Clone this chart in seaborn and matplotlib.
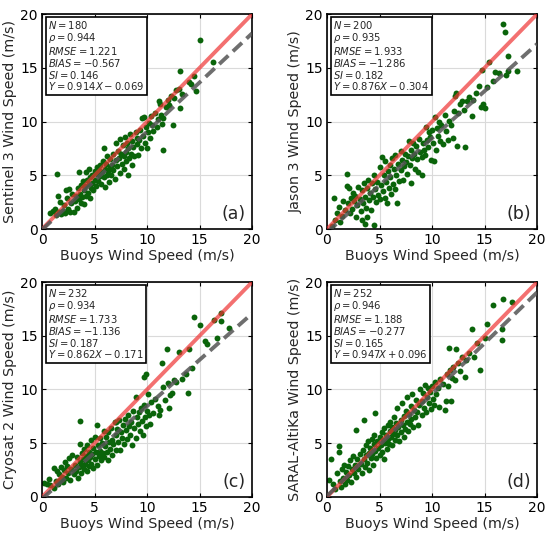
import matplotlib
matplotlib.use("Agg")
import matplotlib.pyplot as plt
import pandas as pd
import seaborn as sns

# ── Data ─────────────────────────────────────────────────────────────────────
points_a = [
    (0.8, 1.5), (1.0, 1.7), (1.2, 1.9), (1.3, 1.3), (1.4, 5.1), (1.5, 3.1), (1.6, 1.6), (1.7, 2.5),
    (1.8, 1.4), (2.0, 1.7), (2.1, 2.2), (2.2, 1.5), (2.3, 3.6), (2.4, 2.9), (2.5, 1.9), (2.6, 3.7),
    (2.7, 1.6), (2.8, 2.4), (2.9, 3.3), (3.0, 1.6), (3.1, 2.6), (3.2, 3.1), (3.3, 2.0), (3.4, 3.8),
    (3.5, 2.8), (3.5, 5.3), (3.6, 3.3), (3.7, 2.4), (3.7, 4.1), (3.8, 3.0), (3.9, 4.5), (4.0, 2.3),
    (4.0, 3.6), (4.1, 4.0), (4.2, 3.1), (4.2, 5.3), (4.3, 4.6), (4.4, 3.4), (4.5, 4.2), (4.5, 5.6),
    (4.6, 2.9), (4.6, 4.8), (4.7, 3.8), (4.8, 5.0), (4.8, 4.3), (4.9, 3.6), (5.0, 5.4), (5.0, 4.6),
    (5.1, 4.0), (5.2, 5.1), (5.2, 5.8), (5.3, 4.5), (5.4, 5.5), (5.5, 4.9), (5.5, 6.0), (5.6, 4.2),
    (5.7, 5.3), (5.8, 6.3), (5.9, 4.8), (5.9, 7.5), (6.0, 5.6), (6.0, 3.9), (6.1, 6.1), (6.2, 5.0),
    (6.2, 6.8), (6.3, 5.4), (6.4, 4.4), (6.5, 6.5), (6.5, 5.8), (6.6, 5.0), (6.7, 6.0), (6.8, 7.0),
    (6.8, 5.5), (6.9, 4.7), (7.0, 6.4), (7.0, 8.0), (7.1, 5.9), (7.2, 7.3), (7.3, 6.6), (7.4, 8.4),
    (7.4, 5.2), (7.5, 7.0), (7.6, 6.1), (7.7, 7.8), (7.8, 6.8), (7.8, 5.6), (7.9, 8.6), (8.0, 7.2),
    (8.0, 6.3), (8.1, 8.0), (8.2, 7.5), (8.2, 5.0), (8.3, 6.6), (8.4, 8.8), (8.5, 7.0), (8.6, 6.0),
    (8.6, 8.2), (8.7, 7.6), (8.8, 6.8), (8.9, 9.0), (9.0, 7.9), (9.0, 8.5), (9.1, 6.9), (9.2, 8.3),
    (9.3, 9.2), (9.4, 7.5), (9.5, 10.3), (9.6, 8.7), (9.7, 10.4), (9.8, 8.0), (9.9, 9.5), (10.0, 7.5),
    (10.1, 9.0), (10.2, 9.9), (10.3, 8.5), (10.4, 10.5), (10.5, 9.7), (10.6, 9.1), (10.8, 10.8),
    (10.9, 9.5), (11.0, 10.2), (11.1, 11.9), (11.2, 11.6), (11.3, 10.6), (11.5, 7.4), (11.5, 10.3),
    (11.4, 9.8), (11.8, 11.4), (12.0, 12.0), (12.1, 11.5), (12.3, 12.4), (12.5, 9.7), (12.6, 12.2),
    (12.8, 12.9), (13.0, 13.0), (13.1, 11.3), (13.1, 14.7), (13.3, 12.6), (14.0, 13.7), (14.2, 13.5),
    (14.5, 14.2), (14.7, 12.8), (15.0, 17.6), (16.3, 15.5),
]

points_b = [
    (0.5, 0.3), (0.7, 2.9), (0.8, 0.8), (1.0, 1.5), (1.1, 2.1), (1.2, 0.7), (1.4, 1.2), (1.5, 2.6),
    (1.7, 1.8), (1.9, 5.1), (1.9, 4.0), (2.0, 2.4), (2.1, 3.8), (2.2, 1.5), (2.3, 2.9), (2.4, 1.9),
    (2.5, 3.4), (2.6, 2.6), (2.7, 3.1), (2.8, 1.1), (2.9, 2.2), (3.0, 3.9), (3.1, 2.8), (3.2, 1.7),
    (3.3, 3.6), (3.3, 0.8), (3.4, 2.4), (3.5, 4.3), (3.6, 3.0), (3.6, 0.5), (3.7, 2.0), (3.8, 3.8),
    (3.8, 1.1), (3.9, 4.6), (4.0, 2.7), (4.1, 3.4), (4.2, 1.8), (4.3, 4.3), (4.4, 3.0), (4.5, 0.4),
    (4.5, 5.0), (4.6, 3.7), (4.7, 2.5), (4.8, 4.4), (4.9, 3.2), (5.0, 5.8), (5.0, 2.8), (5.1, 4.1),
    (5.2, 6.7), (5.3, 3.5), (5.4, 5.0), (5.5, 2.9), (5.5, 6.3), (5.6, 4.4), (5.7, 2.4), (5.8, 5.4),
    (5.9, 3.8), (6.0, 6.0), (6.0, 4.8), (6.1, 3.3), (6.2, 6.6), (6.3, 4.2), (6.4, 5.6), (6.5, 6.9),
    (6.5, 3.7), (6.6, 5.0), (6.7, 2.4), (6.8, 6.1), (6.9, 4.5), (7.0, 7.3), (7.0, 5.5), (7.1, 6.4),
    (7.2, 4.6), (7.3, 5.9), (7.4, 7.0), (7.5, 6.2), (7.6, 5.1), (7.7, 6.8), (7.8, 8.2), (7.9, 6.0),
    (8.0, 7.4), (8.0, 4.3), (8.1, 6.6), (8.2, 8.0), (8.3, 7.0), (8.4, 5.6), (8.5, 7.7), (8.6, 6.5),
    (8.7, 5.3), (8.8, 8.4), (8.9, 7.2), (9.0, 6.7), (9.0, 5.0), (9.1, 8.0), (9.2, 7.4), (9.3, 6.9),
    (9.4, 9.5), (9.5, 8.3), (9.6, 7.6), (9.7, 9.0), (9.8, 8.6), (9.9, 6.4), (10.0, 9.2), (10.1, 8.0),
    (10.2, 6.3), (10.3, 10.4), (10.4, 7.4), (10.5, 9.4), (10.6, 8.7), (10.7, 10.0), (10.8, 8.2),
    (10.9, 9.7), (11.0, 7.9), (11.2, 10.6), (11.3, 9.1), (11.5, 8.3), (11.6, 10.1), (11.8, 9.7),
    (12.0, 8.5), (12.1, 11.0), (12.2, 12.4), (12.3, 12.7), (12.4, 7.7), (12.5, 10.8), (12.7, 11.6),
    (12.9, 11.9), (13.0, 11.1), (13.1, 7.6), (13.3, 11.9), (13.5, 12.3), (13.8, 10.5), (13.9, 12.0),
    (14.2, 12.7), (14.5, 13.3), (14.7, 11.4), (14.8, 14.8), (14.9, 11.6), (15.0, 11.3), (15.2, 13.2),
    (15.4, 15.5), (15.8, 13.8), (16.0, 14.6), (16.4, 14.5), (16.8, 19.1), (16.9, 18.3), (17.0, 14.3),
    (17.2, 16.1), (17.2, 14.7), (18.1, 14.7),
]

points_c = [
    (0.2, 1.3), (0.5, 1.2), (0.7, 1.7), (0.8, 1.1), (1.1, 0.8), (1.1, 2.7), (1.3, 1.5), (1.4, 2.4),
    (1.5, 1.2), (1.6, 2.1), (1.7, 1.6), (1.8, 2.8), (1.9, 1.9), (2.0, 1.4), (2.1, 2.5), (2.2, 3.3),
    (2.3, 1.8), (2.4, 2.9), (2.5, 2.2), (2.6, 3.6), (2.7, 1.6), (2.8, 2.6), (2.9, 3.9), (3.0, 2.1),
    (3.1, 3.0), (3.2, 2.4), (3.3, 3.7), (3.4, 1.8), (3.5, 2.8), (3.6, 7.1), (3.6, 4.9), (3.6, 3.3),
    (3.7, 2.2), (3.8, 4.1), (3.8, 2.9), (3.9, 3.5), (4.0, 2.6), (4.0, 4.5), (4.1, 3.1), (4.2, 3.8),
    (4.3, 2.4), (4.3, 4.8), (4.4, 3.4), (4.5, 2.9), (4.5, 4.2), (4.6, 3.7), (4.7, 3.1), (4.7, 5.3),
    (4.8, 4.0), (4.9, 2.7), (4.9, 4.6), (5.0, 3.5), (5.0, 5.6), (5.1, 4.2), (5.2, 3.0), (5.2, 6.7),
    (5.3, 4.8), (5.4, 3.8), (5.5, 5.5), (5.5, 4.3), (5.6, 3.4), (5.7, 5.0), (5.8, 4.1), (5.9, 6.1),
    (5.9, 3.7), (6.0, 4.7), (6.1, 5.6), (6.2, 4.2), (6.3, 6.0), (6.3, 3.4), (6.4, 5.1), (6.5, 4.5),
    (6.6, 6.4), (6.7, 5.3), (6.7, 3.9), (6.8, 4.9), (6.9, 7.0), (7.0, 7.0), (7.0, 5.8), (7.0, 4.4),
    (7.1, 6.3), (7.2, 5.1), (7.3, 7.2), (7.4, 4.4), (7.5, 6.0), (7.6, 5.5), (7.7, 6.7), (7.8, 4.9),
    (7.9, 7.3), (8.0, 6.2), (8.1, 5.4), (8.2, 7.6), (8.3, 6.6), (8.4, 5.8), (8.5, 7.0), (8.6, 4.8),
    (8.7, 8.0), (8.8, 6.4), (8.9, 9.3), (8.9, 5.5), (9.0, 7.4), (9.1, 6.8), (9.2, 7.9), (9.3, 6.1),
    (9.4, 8.3), (9.5, 7.1), (9.6, 5.8), (9.7, 11.2), (9.7, 8.6), (9.8, 7.4), (9.9, 11.4), (9.9, 6.6),
    (10.0, 8.0), (10.1, 9.6), (10.2, 7.6), (10.3, 6.8), (10.4, 8.8), (10.6, 7.8), (10.8, 9.1),
    (11.0, 8.5), (11.1, 7.6), (11.2, 8.1), (11.4, 12.5), (11.5, 10.2), (11.7, 9.0), (11.9, 13.8),
    (12.0, 10.6), (12.1, 8.3), (12.2, 9.5), (12.4, 9.7), (12.6, 10.9), (12.8, 10.7), (13.0, 13.5),
    (13.3, 11.0), (13.7, 11.4), (13.9, 9.7), (14.0, 13.8), (14.3, 12.0), (14.5, 16.7), (15.0, 16.0),
    (15.5, 14.5), (15.7, 14.2), (16.4, 16.5), (16.7, 14.8), (17.0, 17.1), (17.0, 16.4), (17.8, 15.7),
]

points_d = [
    (0.2, 1.6), (0.4, 3.5), (0.6, 1.2), (0.8, 0.7), (1.0, 2.2), (1.1, 4.7), (1.1, 4.2), (1.2, 1.5),
    (1.3, 0.9), (1.4, 2.6), (1.5, 1.8), (1.6, 3.0), (1.7, 1.2), (1.8, 2.3), (1.9, 1.6), (2.0, 2.9),
    (2.1, 2.0), (2.2, 3.4), (2.3, 1.4), (2.4, 2.6), (2.5, 3.8), (2.6, 2.2), (2.7, 3.0), (2.8, 6.2),
    (2.8, 1.9), (2.9, 3.5), (3.0, 2.6), (3.1, 4.0), (3.2, 3.1), (3.3, 2.2), (3.4, 4.4), (3.5, 7.2),
    (3.5, 3.5), (3.6, 2.8), (3.7, 4.8), (3.7, 3.9), (3.8, 3.2), (3.9, 5.2), (4.0, 4.1), (4.0, 2.5),
    (4.1, 4.6), (4.2, 3.6), (4.3, 5.4), (4.3, 4.0), (4.4, 3.0), (4.5, 4.9), (4.5, 5.8), (4.6, 4.3),
    (4.6, 7.8), (4.7, 3.6), (4.8, 5.2), (4.9, 4.6), (5.0, 3.9), (5.0, 5.6), (5.1, 4.8), (5.2, 6.0),
    (5.2, 4.2), (5.3, 5.3), (5.4, 6.4), (5.4, 3.5), (5.5, 5.0), (5.6, 5.8), (5.7, 4.5), (5.8, 6.7),
    (5.8, 5.4), (5.9, 4.9), (6.0, 6.1), (6.0, 7.0), (6.1, 5.6), (6.2, 4.8), (6.2, 6.5), (6.3, 5.9),
    (6.4, 7.4), (6.5, 6.2), (6.5, 5.3), (6.6, 6.9), (6.7, 5.8), (6.7, 8.3), (6.8, 6.5), (6.9, 5.2),
    (7.0, 7.2), (7.0, 6.0), (7.1, 8.7), (7.2, 6.7), (7.3, 5.6), (7.3, 7.5), (7.4, 6.3), (7.5, 8.0),
    (7.6, 7.0), (7.6, 9.3), (7.7, 6.1), (7.8, 7.7), (7.9, 6.8), (8.0, 8.5), (8.0, 7.3), (8.1, 9.6),
    (8.2, 6.5), (8.3, 8.1), (8.4, 7.4), (8.5, 9.0), (8.6, 7.9), (8.7, 6.7), (8.8, 8.6), (8.9, 10.0),
    (9.0, 7.6), (9.0, 8.9), (9.1, 9.7), (9.2, 8.3), (9.3, 10.4), (9.4, 7.9), (9.5, 9.3), (9.6, 10.1),
    (9.7, 8.7), (9.8, 9.8), (9.9, 8.2), (10.0, 10.3), (10.1, 9.1), (10.2, 8.6), (10.3, 10.7),
    (10.4, 9.6), (10.6, 10.1), (10.7, 8.4), (10.8, 11.0), (11.0, 10.5), (11.2, 8.1), (11.3, 8.9),
    (11.4, 11.4), (11.5, 10.3), (11.6, 13.9), (11.7, 11.8), (11.8, 8.9), (11.9, 11.1), (12.0, 12.1),
    (12.2, 10.9), (12.3, 13.8), (12.5, 12.5), (12.7, 11.7), (12.9, 13.0), (13.1, 11.2), (13.2, 12.7),
    (13.5, 13.4), (13.8, 15.6), (14.0, 13.0), (14.3, 14.3), (14.6, 11.8), (15.0, 14.8), (15.2, 16.1),
    (15.8, 17.9), (16.7, 15.6), (16.7, 14.6), (16.8, 18.4), (17.6, 18.1),
]

panel_points = [points_a, points_b, points_c, points_d]
panel_tags = ["(a)", "(b)", "(c)", "(d)"]
sat_names = ["Sentinel 3", "Jason 3", "Cryosat 2", "SARAL-AltiKa"]

# statistics printed in the boxes
n_obs = [180, 200, 232, 252]
rho = ["0.944", "0.935", "0.934", "0.946"]
rmse = ["1.221", "1.933", "1.733", "1.188"]
bias = ["-0.567", "-1.286", "-1.136", "-0.277"]
si = ["0.146", "0.182", "0.187", "0.165"]
slope = [0.914, 0.876, 0.862, 0.947]
intercept = [-0.069, -0.304, -0.171, 0.096]

axis_range = [0, 20]

# ── Style ────────────────────────────────────────────────────────────────────
sns.set_theme(style="whitegrid")
plt.rcParams["font.family"] = ["DejaVu Sans"]
plt.rcParams["mathtext.fontset"] = "dejavusans"

fig = plt.figure(figsize=(5.5, 5.34), dpi=100)
boxes = [
    [0.0764, 0.571, 0.382, 0.4026],
    [0.5945, 0.571, 0.382, 0.4026],
    [0.0764, 0.0693, 0.382, 0.4026],
    [0.5945, 0.0693, 0.382, 0.4026],
]

for i, pts in enumerate(panel_points):
    ax = fig.add_axes(boxes[i])
    df = pd.DataFrame(pts, columns=["buoy", "sat"])

    sns.scatterplot(data=df, x="buoy", y="sat", ax=ax, color="#0a640a",
                    s=18, linewidth=0, zorder=2)

    line_df = pd.DataFrame({"x": axis_range})
    line_df["one"] = line_df["x"]
    line_df["fit"] = slope[i] * line_df["x"] + intercept[i]
    ax.plot(line_df["x"], line_df["one"], color="#ee3333", alpha=0.7,
            linewidth=2.8, zorder=3, solid_capstyle="butt")
    ax.plot(line_df["x"], line_df["fit"], color="#555555", alpha=0.85,
            linewidth=2.8, linestyle=(0, (3.2, 1.6)), zorder=3)

    ax.set_xlim(axis_range)
    ax.set_ylim(axis_range)
    ax.set_xticks([0, 5, 10, 15, 20])
    ax.set_yticks([0, 5, 10, 15, 20])
    ax.grid(True, color="#dadada", linewidth=0.8)
    for sp in ax.spines.values():
        sp.set_color("black")
        sp.set_linewidth(1.2)
    ax.tick_params(direction="in", length=3, width=0.8, labelsize=10,
                   top=True, right=True, bottom=True, left=True, pad=3, colors="black")

    ax.set_xlabel("Buoys Wind Speed (m/s)", fontsize=10.3, labelpad=1)
    ax.set_ylabel(f"{sat_names[i]} Wind Speed (m/s)", fontsize=10.3, labelpad=2)

    sign = "+" if intercept[i] >= 0 else "-"
    stats = "\n".join([
        f"$N = {n_obs[i]}$",
        rf"$\rho = {rho[i]}$",
        f"$RMSE = {rmse[i]}$",
        f"$BIAS = {bias[i]}$",
        f"$SI = {si[i]}$",
        f"$Y = {slope[i]:.3f}X {sign} {abs(intercept[i]):.3f}$",
    ])
    ax.text(0.03, 0.975, stats, transform=ax.transAxes, fontsize=7.2,
            va="top", ha="left", linespacing=0.98, zorder=5,
            bbox=dict(boxstyle="square,pad=0.25", facecolor="white",
                      edgecolor="black", linewidth=1.2))
    ax.text(0.97, 0.03, panel_tags[i], transform=ax.transAxes, fontsize=12.5,
            ha="right", va="bottom", zorder=5)

fig.savefig("out.png", dpi=100)
